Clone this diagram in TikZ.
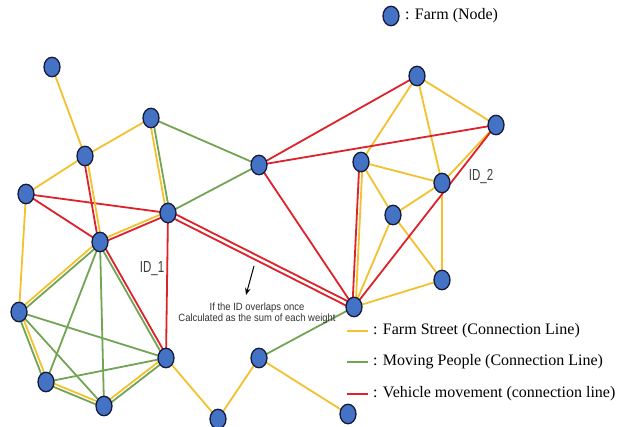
\documentclass[tikz,border=0pt]{standalone}
\usepackage{fontspec}
\setmainfont{Liberation Serif}
\newfontfamily\sansf{Liberation Sans}
\newfontfamily\idfont[FakeStretch=0.72]{Liberation Sans}
\newfontfamily\notefont[FakeStretch=0.9]{Liberation Sans}
\usetikzlibrary{backgrounds,calc,shapes.geometric,arrows.meta}
\definecolor{farmblue}{HTML}{4472C4}
\definecolor{farmedge}{HTML}{14193A}
\definecolor{yl}{HTML}{F3C12E}
\definecolor{gr}{HTML}{72A553}
\definecolor{rd}{HTML}{DE2229}
\tikzset{
  farm/.style={ellipse, minimum width=16pt, minimum height=19.5pt, inner sep=0pt,
    fill=farmblue, draw=farmedge, line width=1.3pt},
  ylink/.style={draw=yl, line width=1.8pt},
  glink/.style={draw=gr, line width=1.8pt},
  rlink/.style={draw=rd, line width=1.8pt},
  legtext/.style={anchor=west, inner sep=0pt, font=\fontsize{16}{18}\selectfont},
  idlabel/.style={inner sep=0pt, text=black!75, font=\idfont\fontsize{16}{18}\selectfont},
  note/.style={inner sep=0pt, align=center, text=black!80, font=\notefont\fontsize{10.5}{11.5}\selectfont}
}
\newcommand\duo[5][1.6pt]{%
  \path[#4] ($(#2.center)!#1!90:(#3.center)$) -- ($(#3.center)!#1!-90:(#2.center)$);
  \path[#5] ($(#2.center)!#1!-90:(#3.center)$) -- ($(#3.center)!#1!90:(#2.center)$);}
\newcommand\one[3]{\path[#3] (#1.center) -- (#2.center);}
\begin{document}
\begin{tikzpicture}[x=1pt,y=-1pt]
\useasboundingbox (0,0) rectangle (621,427);
% farms
\node[farm] (A) at (52,67) {};
\node[farm] (B) at (85,156) {};
\node[farm] (C) at (151,118) {};
\node[farm] (D) at (26,194) {};
\node[farm] (E) at (168,213) {};
\node[farm] (F) at (100,242) {};
\node[farm] (G) at (259,165) {};
\node[farm] (H) at (19,312) {};
\node[farm] (I) at (166,358) {};
\node[farm] (J) at (46,382) {};
\node[farm] (K) at (104,406) {};
\node[farm] (L) at (218,419) {};
\node[farm] (M) at (259,358) {};
\node[farm] (N) at (348,414) {};
\node[farm] (P) at (354,307) {};
\node[farm] (Q) at (417,76) {};
\node[farm] (R) at (496,125) {};
\node[farm] (S) at (361,162) {};
\node[farm] (T) at (442,183) {};
\node[farm] (U) at (393,215) {};
\node[farm] (V) at (442,280) {};
% legend
\node[farm] (legnode) at (391,16) {};
\node[legtext] (legnodetext) at (405,16) {: Farm (Node)};
\coordinate (ly1) at (347,331); \coordinate (ly2) at (368,331);
\coordinate (lg1) at (347,362); \coordinate (lg2) at (368,362);
\coordinate (lr1) at (347,394); \coordinate (lr2) at (368,394);
\node[legtext] (legy) at (373,331) {: Farm Street (Connection Line)};
\node[legtext] (legg) at (373,362) {: Moving People (Connection Line)};
\node[legtext] (legr) at (373,394) {: Vehicle movement (connection line)};
% labels
\node[idlabel] (id1) at (152,269) {ID\_1};
\node[idlabel] (id2) at (481,177) {ID\_2};
\node[note] (noteA) at (257,313.5) {If the ID overlaps once\\Calculated as the sum of each weight};
\coordinate (arrS) at (254,266);
\coordinate (arrE) at (246,295);
\draw[line width=1pt, -{Stealth[length=7pt,width=5.5pt]}] (arrS) -- (arrE);
\begin{scope}[on background layer]
\fill[white] (0,0) rectangle (621,427);
\path[ylink] (ly1) -- (ly2);
\path[glink] (lg1) -- (lg2);
\path[rlink] (lr1) -- (lr2);
% yellow only
\one{A}{B}{ylink}
\one{B}{C}{ylink}
\one{D}{B}{ylink}
\one{D}{H}{ylink}
\one{I}{L}{ylink}
\one{L}{M}{ylink}
\one{M}{N}{ylink}
\one{P}{V}{ylink}
\one{P}{U}{ylink}
\one{S}{T}{ylink}
\one{S}{U}{ylink}
\one{S}{Q}{ylink}
\one{Q}{T}{ylink}
\one{Q}{R}{ylink}
\one{U}{T}{ylink}
\one{U}{V}{ylink}
\one{T}{V}{ylink}
\one{T}{R}{ylink}
% green only
\one{C}{G}{glink}
\one{E}{G}{glink}
\one{F}{J}{glink}
\one{F}{K}{glink}
\one{H}{I}{glink}
\one{H}{K}{glink}
\one{J}{I}{glink}
\one{M}{P}{glink}
% red only
\one{D}{E}{rlink}
\one{D}{F}{rlink}
\one{E}{I}{rlink}
\one{G}{P}{rlink}
\one{G}{Q}{rlink}
\one{G}{R}{rlink}
\one{P}{R}{rlink}
% paired
\duo{C}{E}{glink}{ylink}
\duo{B}{F}{ylink}{rlink}
\duo{F}{E}{ylink}{rlink}
\duo{H}{F}{ylink}{glink}
\duo{H}{J}{ylink}{glink}
\duo{J}{K}{ylink}{glink}
\duo{K}{I}{ylink}{glink}
\duo{F}{I}{rlink}{glink}
\duo{P}{S}{rlink}{ylink}
\duo[2.3pt]{E}{P}{rlink}{rlink}
\end{scope}
\end{tikzpicture}
\end{document}
